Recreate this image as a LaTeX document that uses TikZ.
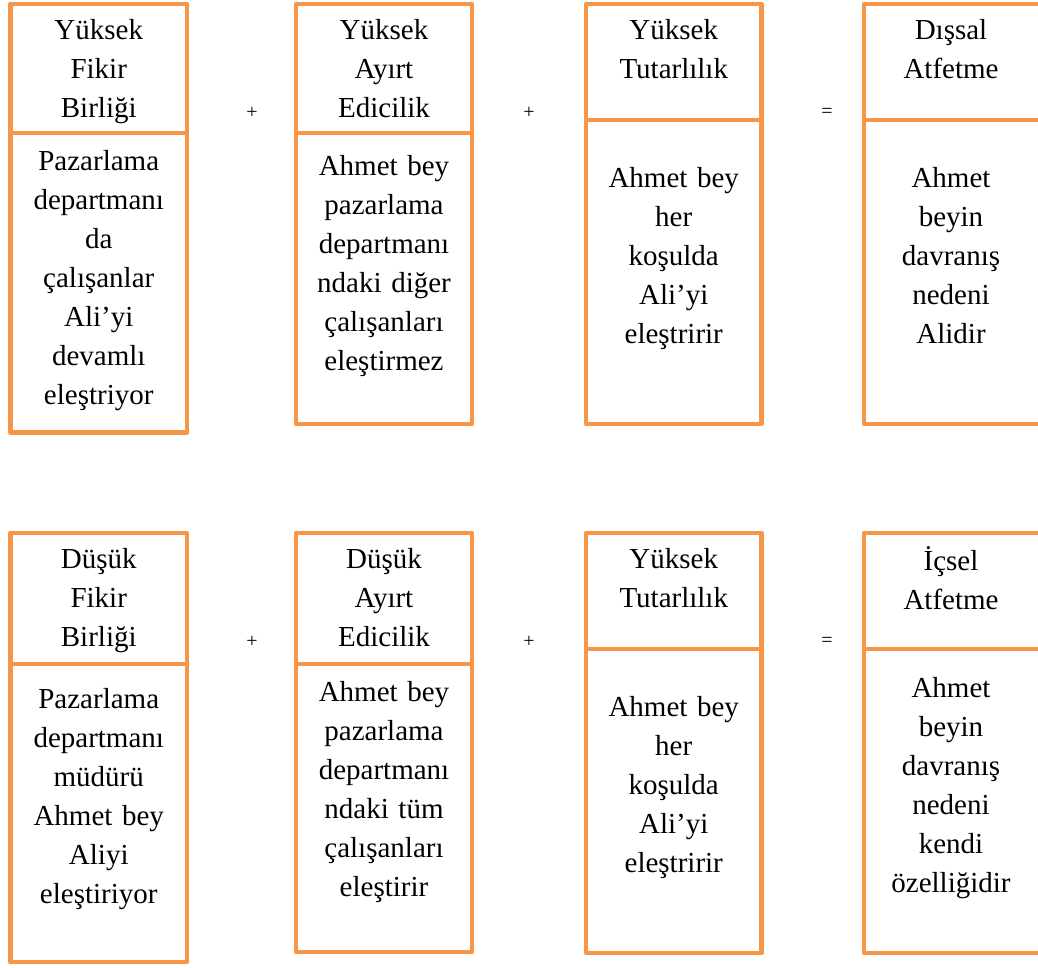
\documentclass[tikz,border=0pt]{standalone}
\usepackage{fontspec}
\setmainfont{Liberation Serif}
\usepackage{tikz}
\usetikzlibrary{positioning}
\definecolor{boxorange}{RGB}{247,150,70}

\begin{document}
\begin{tikzpicture}[
  x=1pt, y=-1pt,
  cell/.style={rectangle, draw=boxorange, line width=4.5pt, line join=round,
               anchor=north west, inner sep=0pt, outer sep=0pt},
  txt/.style={align=center, text width=170pt, inner sep=0pt, anchor=base,
              font=\fontsize{29}{39}\selectfont},
  op/.style={inner sep=0pt, font=\fontsize{20}{24}\selectfont}
]
\useasboundingbox (0,0) rectangle (1038,967);
\clip (0,0) rectangle (1038,967);

% upper row
\node[cell, minimum width=176.5pt, minimum height=129pt] (h11) at (10.5,4) {};
\node[cell, minimum width=176.5pt, minimum height=299.5pt,
      below=0pt of h11.south west, anchor=north west] (b11) {};
\node[cell, minimum width=176pt, minimum height=129pt] (h12) at (296,4) {};
\node[cell, minimum width=176pt, minimum height=291pt,
      below=0pt of h12.south west, anchor=north west] (b12) {};
\node[cell, minimum width=175.5pt, minimum height=116pt] (h13) at (586,4) {};
\node[cell, minimum width=175.5pt, minimum height=304pt,
      below=0pt of h13.south west, anchor=north west] (b13) {};
\node[cell, minimum width=177pt, minimum height=116pt] (h14) at (864,4) {};
\node[cell, minimum width=177pt, minimum height=304pt,
      below=0pt of h14.south west, anchor=north west] (b14) {};

\node[txt] (th11) at (98.75,39) {Yüksek\\Fikir\\Birliği};
\node[txt] (tb11) at (98.75,170)
  {Pazarlama\\departmanı\\da\\çalışanlar\\Ali’yi\\devamlı\\eleştriyor};
\node[txt] (th12) at (384,39) {Yüksek\\Ayırt\\Edicilik};
\node[txt] (tb12) at (384,175)
  {Ahmet bey\\pazarlama\\departmanı\\ndaki diğer\\çalışanları\\eleştirmez};
\node[txt] (th13) at (673.75,39) {Yüksek\\Tutarlılık};
\node[txt] (tb13) at (673.75,187) {Ahmet bey\\her\\koşulda\\Ali’yi\\eleştririr};
\node[txt] (th14) at (951,39) {Dışsal\\Atfetme};
\node[txt] (tb14) at (951,187) {Ahmet\\beyin\\davranış\\nedeni\\Alidir};

\node[op] (p11) at (252,113) {+};
\node[op] (p12) at (529,113) {+};
\node[op] (e1) at (827,113) {=};

% lower row
\node[cell, minimum width=176.5pt, minimum height=131pt] (h21) at (10.5,533) {};
\node[cell, minimum width=176.5pt, minimum height=298pt,
      below=0pt of h21.south west, anchor=north west] (b21) {};
\node[cell, minimum width=176pt, minimum height=131pt] (h22) at (296,533) {};
\node[cell, minimum width=176pt, minimum height=288pt,
      below=0pt of h22.south west, anchor=north west] (b22) {};
\node[cell, minimum width=175.5pt, minimum height=116pt] (h23) at (586,533) {};
\node[cell, minimum width=175.5pt, minimum height=304pt,
      below=0pt of h23.south west, anchor=north west] (b23) {};
\node[cell, minimum width=177pt, minimum height=116pt] (h24) at (864,533) {};
\node[cell, minimum width=177pt, minimum height=304pt,
      below=0pt of h24.south west, anchor=north west] (b24) {};

\node[txt] (th21) at (98.75,568) {Düşük\\Fikir\\Birliği};
\node[txt] (tb21) at (98.75,708)
  {Pazarlama\\departmanı\\müdürü\\Ahmet bey\\Aliyi\\eleştiriyor};
\node[txt] (th22) at (384,568) {Düşük\\Ayırt\\Edicilik};
\node[txt] (tb22) at (384,701)
  {Ahmet bey\\pazarlama\\departmanı\\ndaki tüm\\çalışanları\\eleştirir};
\node[txt] (th23) at (673.75,568) {Yüksek\\Tutarlılık};
\node[txt] (tb23) at (673.75,716) {Ahmet bey\\her\\koşulda\\Ali’yi\\eleştririr};
\node[txt] (th24) at (951,570) {İçsel\\Atfetme};
\node[txt] (tb24) at (951,697)
  {Ahmet\\beyin\\davranış\\nedeni\\kendi\\özelliğidir};

\node[op] (p21) at (252,642) {+};
\node[op] (p22) at (529,642) {+};
\node[op] (e2) at (827,642) {=};
\end{tikzpicture}
\end{document}
